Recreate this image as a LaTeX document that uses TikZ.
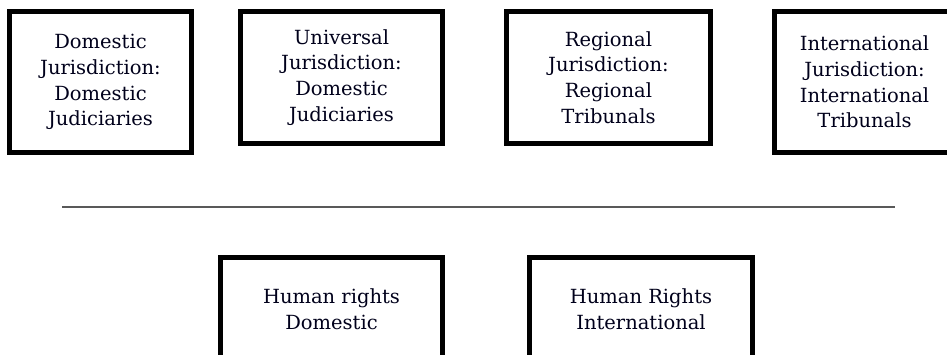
\documentclass[tikz,border=0pt]{standalone}
\usepackage{fontspec}
\setmainfont{DejaVu Serif}
\begin{document}
\begin{tikzpicture}[x=1pt,y=-1pt,
  jbox/.style={draw=black, line width=5pt, fill=white, inner sep=0pt},
  jtext/.style={align=center, inner sep=0pt, text=black!85!blue!70!black, font=\fontsize{19.5}{25.8}\selectfont},
  divider/.style={draw=black!65, line width=1.6pt}]
\useasboundingbox (0,0) rectangle (947,354);
\clip (0,0) rectangle (947,354);
\fill[white] (0,0) rectangle (947,354);
% top row boxes
\node[jbox, minimum width=182pt, minimum height=141pt] (b1) at (100.5,82) {};
\node[jbox, minimum width=202pt, minimum height=132pt] (b2) at (341.5,77.5) {};
\node[jbox, minimum width=204pt, minimum height=132pt] (b3) at (608.5,77.5) {};
\node[jbox, minimum width=190pt, minimum height=141pt] (b4) at (869.5,82) {};
\node[jtext] (t1) at (b1.center) {Domestic\\Jurisdiction:\\Domestic\\Judiciaries};
\node[jtext] (t2) at (b2.center) {Universal\\Jurisdiction:\\Domestic\\Judiciaries};
\node[jtext] (t3) at (b3.center) {Regional\\Jurisdiction:\\Regional\\Tribunals};
\node[jtext] (t4) at (864.5,82) {International\\Jurisdiction:\\International\\Tribunals};
% divider
\coordinate (l1) at (62,207);
\coordinate (l2) at (895,207);
\draw[divider] (l1) -- (l2);
% bottom boxes
\node[jbox, minimum width=222pt, minimum height=140pt] (b5) at (331.5,327.5) {};
\node[jbox, minimum width=223pt, minimum height=140pt] (b6) at (641,327.5) {};
\node[jtext] (t5) at (331.5,309) {Human rights\\Domestic};
\node[jtext] (t6) at (641,309) {Human Rights\\International};
\end{tikzpicture}
\end{document}
